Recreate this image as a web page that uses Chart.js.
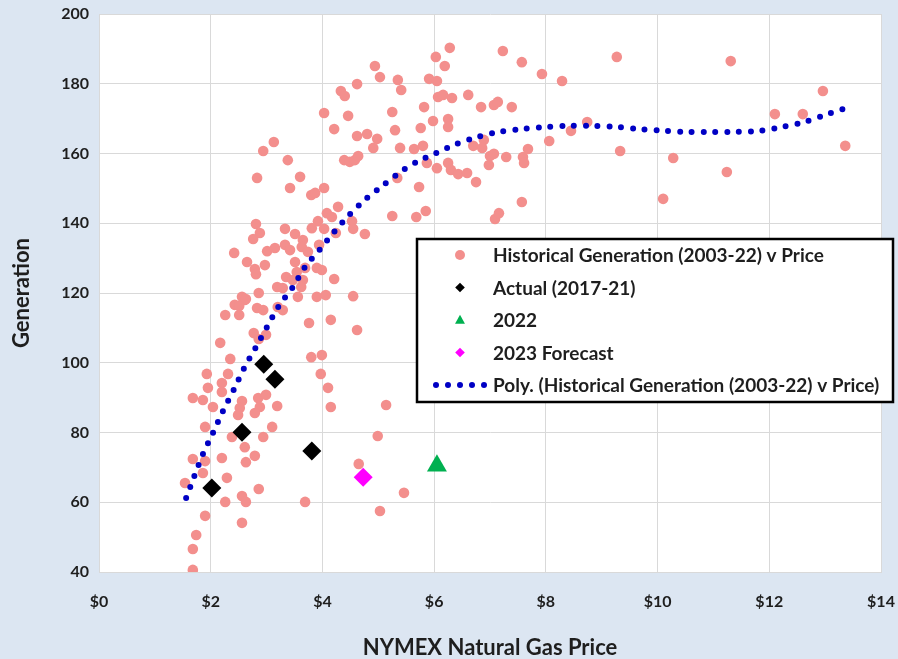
<!DOCTYPE html>
<html>
<head>
<meta charset="utf-8">
<script src="https://cdn.jsdelivr.net/npm/chart.js@4.4.1/dist/chart.umd.min.js"></script>
<style>
  html, body { margin: 0; padding: 0; background: #dce6f2; }
  #wrap { width: 898px; height: 659px; }
</style>
</head>
<body>
<div id="wrap"><canvas id="c" width="898" height="659"></canvas></div>
<script>
// Monthly generation vs NYMEX gas price, 2003-22
const histPrice = [
  3.13,2.94,3.38,2.83,3.42,3.60,2.81,2.88,2.76,3.33,3.51,2.42,3.01,3.15,3.33,3.42,2.65,2.79,2.97,2.81,
  3.35,3.47,3.51,3.19,2.86,2.61,2.43,4.94,5.03,4.62,5.35,4.33,4.40,4.03,4.46,5.25,4.21,5.30,4.62,4.80,
  4.98,4.91,5.39,4.39,4.49,4.58,4.64,3.80,3.87,4.03,4.28,5.25,4.08,4.17,3.92,3.81,4.03,4.53,4.55,4.76,
  4.24,3.65,3.63,3.69,3.90,3.99,3.54,4.21,3.65,3.29,3.62,2.56,2.63,3.56,3.90,4.06,4.55,3.20,3.74,3.94,
  6.03,5.41,5.91,6.05,6.07,5.82,5.98,5.76,5.64,5.80,5.87,6.05,5.34,5.73,5.85,5.68,2.51,2.26,2.51,2.83,
  2.94,3.29,2.77,2.86,2.99,2.17,2.35,1.93,2.31,1.95,2.20,2.20,1.68,1.86,2.04,2.56,2.52,2.85,2.99,2.88,
  3.19,2.79,2.49,1.90,2.38,2.94,3.10,2.61,2.63,2.79,2.20,1.68,1.90,1.86,2.29,1.54,2.86,2.26,2.56,2.63,
  1.90,2.56,1.74,1.68,1.68,3.76,4.15,4.62,3.80,3.99,3.97,4.10,4.15,5.14,4.99,4.65,5.46,3.69,5.03,6.28,
  6.19,7.23,7.57,7.93,8.29,9.27,11.31,6.16,6.32,6.61,6.84,7.07,7.14,7.39,6.25,6.25,6.25,6.30,6.43,6.59,
  6.70,6.89,6.86,7.00,6.98,7.07,7.29,7.59,7.61,7.68,6.75,7.57,7.09,7.16,8.06,8.45,8.74,9.33,10.10,10.28,
  11.24,12.10,12.60,12.96,13.36
];
const histGen = [
  163.3,160.7,158.1,153.0,150.1,153.3,139.8,137.2,135.5,138.4,136.9,131.5,132.0,132.9,133.8,132.3,128.9,126.9,128.0,125.4,
  124.6,123.7,128.9,121.7,120.0,118.0,116.6,185.1,181.9,179.9,181.1,177.9,176.5,171.6,170.8,171.9,167.0,166.7,165.0,165.6,
  164.2,161.6,161.6,158.1,157.6,158.1,159.3,148.1,148.7,150.1,144.7,142.1,142.9,141.8,140.6,138.6,138.4,140.6,138.4,136.9,
  137.2,135.2,133.2,127.2,127.2,126.6,126.0,124.0,123.7,121.4,121.7,118.9,118.3,118.9,118.9,119.4,119.1,116.0,131.8,133.8,
  187.7,178.2,181.4,180.8,176.2,173.3,169.3,167.3,161.3,162.2,157.3,155.8,153.0,150.4,143.5,141.8,116.3,113.7,113.7,115.7,
  115.1,115.1,108.5,106.8,108.0,105.7,101.1,96.8,96.8,92.8,94.2,91.6,89.9,89.3,87.3,89.0,87.0,89.9,90.8,87.3,
  87.6,85.6,85.0,81.6,78.7,78.7,81.6,75.8,71.5,73.3,72.7,72.4,71.8,68.4,67.0,65.5,63.8,60.1,61.8,60.1,
  56.1,54.1,50.6,46.6,40.6,111.4,112.3,109.4,101.6,102.2,96.8,92.8,87.3,87.9,79.0,71.0,62.7,60.1,57.5,190.3,
  185.1,189.4,186.2,182.8,180.8,187.7,186.5,176.8,175.9,176.8,173.3,173.9,174.8,173.3,169.9,167.6,157.3,155.3,154.1,154.4,
  162.2,163.9,161.6,159.3,156.7,159.9,159.0,159.0,157.3,161.3,151.8,146.1,141.2,142.9,163.6,166.5,169.0,160.7,147.0,158.7,
  154.7,171.3,171.3,177.9,162.2
];

// Annual actuals 2017-21, 2022 and the 2023 forecast
const actualPrice = [2.95, 3.15, 2.56, 2.02, 3.81];
const actualGen   = [99.6, 95.3, 80.1, 64.1, 74.7];
const price2022 = [6.05];
const gen2022   = [70.5];
const price2023 = [4.73];
const gen2023   = [67.2];

// Polynomial trendline of the historical series
const trendPrice = [1.56,1.70,1.86,2.04,2.22,2.42,2.60,2.81,3.01,3.22,3.47,3.69,3.96,4.21,4.48,4.76,5.07,5.37,5.69,6.03,
  6.39,6.77,7.16,7.57,7.98,8.40,8.83,9.27,9.70,10.11,10.53,10.97,11.40,11.83,12.23,12.62,12.96,13.36];
const trendGen = [61.2,67.2,73.8,79.9,86.2,92.5,98.5,104.5,110.3,116.3,121.7,127.5,132.6,137.5,142.4,146.7,150.7,154.4,157.6,160.1,
  162.7,164.7,166.2,167.0,167.6,167.9,167.9,167.6,167.0,166.5,166.2,166.2,166.2,166.5,167.6,169.0,170.8,173.0];

// Axis ticks
const xTicks = [0, 2, 4, 6, 8, 10, 12, 14];
const yTicks = [40, 60, 80, 100, 120, 140, 160, 180, 200];

const pts = (xs, ys) => xs.map((x, i) => ({ x, y: ys[i] }));

const FONT = 'Lato, "Open Sans", "DejaVu Sans", sans-serif';
const INK = '#1e1e1e';
const GRID = '#d9d9d9';
const PINK = '#f38f8d';

// Light blue page with a white plot area
const backdrop = {
  id: 'backdrop',
  beforeDraw(chart) {
    const { ctx, chartArea: a } = chart;
    ctx.save();
    ctx.fillStyle = '#dce6f2';
    ctx.fillRect(0, 0, chart.width, chart.height);
    ctx.fillStyle = '#ffffff';
    ctx.fillRect(a.left, a.top, a.right - a.left, a.bottom - a.top);
    ctx.restore();
  }
};

// Boxed legend inside the plot
const boxLegend = {
  id: 'boxLegend',
  afterDraw(chart) {
    const { ctx } = chart;
    const ds = chart.data.datasets;
    const order = [0, 1, 2, 3, 4];
    const bx = 417, by = 239, bw = 476, bh = 163;
    ctx.save();
    ctx.fillStyle = '#ffffff';
    ctx.fillRect(bx, by, bw, bh);
    ctx.lineWidth = 2.5;
    ctx.strokeStyle = '#000000';
    ctx.strokeRect(bx, by, bw, bh);
    ctx.font = 'bold 19px ' + FONT;
    ctx.textBaseline = 'middle';
    ctx.textAlign = 'left';
    order.forEach((di, k) => {
      const d = ds[di];
      const cy = 255 + k * 32.5;
      const mx = 460;
      ctx.fillStyle = d.legendColor;
      ctx.beginPath();
      if (d.legendShape === 'circle') {
        ctx.arc(mx, cy, 5, 0, Math.PI * 2);
        ctx.fill();
      } else if (d.legendShape === 'diamond') {
        const r = 4.8;
        ctx.moveTo(mx, cy - r); ctx.lineTo(mx + r, cy); ctx.lineTo(mx, cy + r); ctx.lineTo(mx - r, cy);
        ctx.closePath(); ctx.fill();
      } else if (d.legendShape === 'triangle') {
        const r = 5.2;
        ctx.moveTo(mx, cy - r); ctx.lineTo(mx + r * 0.95, cy + r * 0.7); ctx.lineTo(mx - r * 0.95, cy + r * 0.7);
        ctx.closePath(); ctx.fill();
      } else {
        for (let j = 0; j < 5; j++) {
          ctx.beginPath();
          ctx.arc(436 + j * 12, cy, 3, 0, Math.PI * 2);
          ctx.fill();
        }
      }
      ctx.fillStyle = INK;
      ctx.fillText(d.label, 493, cy + 1);
    });
    ctx.restore();
  }
};

const tickFont = { family: FONT, size: 16, weight: 'bold' };
const titleFont = { family: FONT, size: 22, weight: 'bold', lineHeight: 1 };
const HIDDEN = 'rgba(0,0,0,0)';

new Chart(document.getElementById('c'), {
  type: 'scatter',
  data: {
    datasets: [
      {
        label: 'Historical Generation (2003-22) v Price',
        data: pts(histPrice, histGen),
        backgroundColor: PINK, borderWidth: 0, pointRadius: 5.3,
        legendShape: 'circle', legendColor: PINK, order: 5
      },
      {
        label: 'Actual (2017-21)',
        data: pts(actualPrice, actualGen),
        pointStyle: 'rectRot', backgroundColor: '#000000', borderWidth: 0, pointRadius: 9.5,
        legendShape: 'diamond', legendColor: '#000000', order: 3
      },
      {
        label: '2022',
        data: pts(price2022, gen2022),
        pointStyle: 'triangle', backgroundColor: '#00b050', borderWidth: 0, pointRadius: 11.5,
        legendShape: 'triangle', legendColor: '#00b050', order: 2
      },
      {
        label: '2023 Forecast',
        data: pts(price2023, gen2023),
        pointStyle: 'rectRot', backgroundColor: '#ff00ff', borderWidth: 0, pointRadius: 9.5,
        legendShape: 'diamond', legendColor: '#ff00ff', order: 1
      },
      {
        type: 'line',
        label: 'Poly. (Historical Generation (2003-22) v Price)',
        data: pts(trendPrice, trendGen),
        showLine: true, borderColor: '#0000c4', borderWidth: 6,
        borderDash: [0, 11.8], borderCapStyle: 'round', tension: 0.3,
        pointRadius: 0, fill: false,
        legendShape: 'dots', legendColor: '#0000c4', order: 4
      }
    ]
  },
  options: {
    responsive: false,
    animation: false,
    devicePixelRatio: 1,
    layout: { padding: { left: 0, right: 17, top: 14, bottom: 0 } },
    plugins: { legend: { display: false }, tooltip: { enabled: false } },
    scales: {
      x: {
        type: 'linear', min: xTicks[0], max: xTicks[xTicks.length - 1],
        afterBuildTicks(s) { s.ticks = xTicks.map(v => ({ value: v })); },
        ticks: { callback: v => '$' + v, font: tickFont, color: INK, padding: 2, maxRotation: 0 },
        grid: { color: GRID, drawTicks: true, tickLength: 18, tickColor: HIDDEN },
        border: { color: GRID },
        title: { display: true, text: 'NYMEX Natural Gas Price', font: titleFont, color: INK, padding: { top: 0, bottom: 0 } },
        afterFit(s) { s.height = 87; }
      },
      y: {
        type: 'linear', min: yTicks[0], max: yTicks[yTicks.length - 1],
        afterBuildTicks(s) { s.ticks = yTicks.map(v => ({ value: v })); },
        ticks: { font: tickFont, color: INK, padding: 2 },
        grid: { color: GRID, drawTicks: true, tickLength: 8, tickColor: HIDDEN },
        border: { color: GRID },
        title: { display: true, text: 'Generation', font: titleFont, color: INK, padding: { top: 11, bottom: 0 } },
        afterFit(s) { s.width = 99; }
      }
    }
  },
  plugins: [backdrop, boxLegend]
});
</script>
</body>
</html>
